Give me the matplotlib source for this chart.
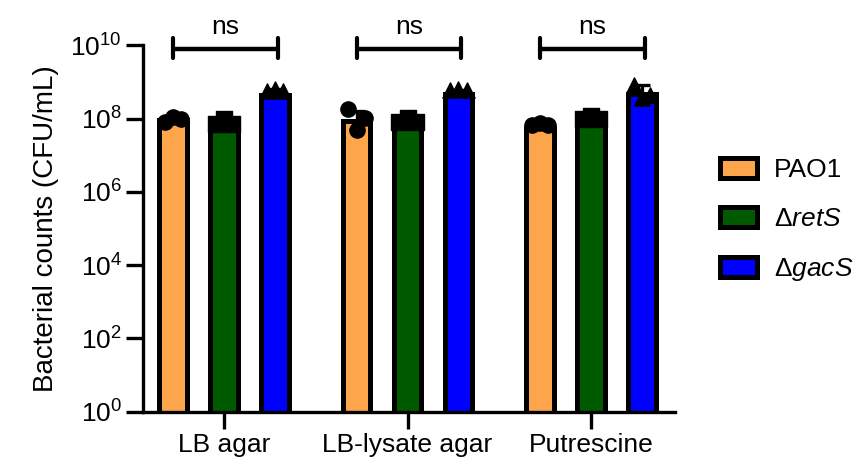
import numpy as np
import matplotlib
matplotlib.use("Agg")
import matplotlib.pyplot as plt
from matplotlib.patches import Patch

plt.rcParams['font.family'] = ['Liberation Sans', 'DejaVu Sans']
plt.rcParams['mathtext.fontset'] = 'custom'
plt.rcParams['mathtext.rm'] = 'Liberation Sans'
plt.rcParams['mathtext.it'] = 'Liberation Sans:italic'

# data (log10 CFU/mL)
conditions = ['LB agar', 'LB-lysate agar', 'Putrescine']
strains = ['PAO1', r'$\Delta\mathit{retS}$', r'$\Delta\mathit{gacS}$']
colors = ['#FDA54B', '#005A00', '#0000FF']
markers = ['o', 's', '^']

pao1_mean = [7.96, 7.93, 7.74]
rets_mean = [7.80, 7.78, 7.86]
gacs_mean = [8.66, 8.67, 8.67]

pao1_sd_top = [8.03, 8.21, 7.88]
rets_sd_top = [7.95, 8.03, 8.07]
gacs_sd_top = [8.80, 8.78, 8.92]

pao1_pts = [[7.92, 8.06, 7.98], [8.26, 7.69, 8.02], [7.84, 7.87, 7.84]]
rets_pts = [[7.85, 7.98, 7.85], [7.92, 8.03, 7.92], [7.98, 8.08, 7.98]]
gacs_pts = [[8.76, 8.80, 8.76], [8.78, 8.80, 8.78], [8.93, 8.56, 8.66]]
jitter = [-0.045, 0.0, 0.045]

ns_labels = ['ns', 'ns', 'ns']

means = [pao1_mean, rets_mean, gacs_mean]
sd_tops = [pao1_sd_top, rets_sd_top, gacs_sd_top]
points = [pao1_pts, rets_pts, gacs_pts]

FS = 19

fig = plt.figure(figsize=(8.67, 4.63), dpi=100)
ax = fig.add_axes([0.1646, 0.1108, 0.614, 0.791])

x = np.arange(len(conditions))
offs = [-0.277, 0.0, 0.277]
bw = 0.15

for i in range(3):
    xs = x + offs[i]
    m = 10 ** np.array(means[i])
    ax.bar(xs, m, width=bw, color=colors[i], edgecolor='black', linewidth=3.6, zorder=2)
    top = 10 ** np.array(sd_tops[i])
    ax.errorbar(xs, m, yerr=[np.zeros(3), top - m], fmt='none', ecolor='black',
                elinewidth=2.4, capsize=6, capthick=2.4, zorder=3)
    for j in range(3):
        ax.scatter(xs[j] + np.array(jitter), 10 ** np.array(points[i][j]), s=120,
                   marker=markers[i], color='black', zorder=4, clip_on=False)

# significance brackets
for j in range(3):
    x1, x2 = x[j] + offs[0], x[j] + offs[2] + 0.015
    yb = 10 ** 9.9
    ax.plot([x1, x2], [yb, yb], color='black', lw=3.2, clip_on=False, solid_capstyle='butt')
    for xx in (x1, x2):
        ax.plot([xx, xx], [10 ** 9.66, 10 ** 10.2], color='black', lw=3, clip_on=False,
                solid_capstyle='round')
    ax.text((x1 + x2) / 2, 10 ** 10.3, ns_labels[j], ha='center', va='baseline', fontsize=FS)

ax.set_yscale('log')
ax.set_ylim(1, 1e10)
ax.set_xlim(-0.443, 2.458)
yt = [10 ** k for k in range(0, 11, 2)]
ax.set_yticks(yt)
ax.set_yticklabels([r'$\mathregular{10^{%d}}$' % k for k in range(0, 11, 2)])
ax.minorticks_off()
ax.set_xticks(x)
ax.set_xticklabels(conditions)

for s in ['top', 'right']:
    ax.spines[s].set_visible(False)
for s in ['left', 'bottom']:
    ax.spines[s].set_linewidth(2.4)
ax.tick_params(axis='both', width=2.4, length=12, labelsize=FS, color='black')
ax.tick_params(axis='y', pad=3)
ax.tick_params(axis='x', pad=3)
ax.set_ylabel('Bacterial counts (CFU/mL)', fontsize=20, labelpad=8)

handles = [Patch(facecolor=colors[i], edgecolor='black', linewidth=3.6) for i in range(3)]
fig.legend(handles, strains, loc='center left', bbox_to_anchor=(0.83, 0.524),
           frameon=False, fontsize=FS, handlelength=1.4, handleheight=0.8,
           handletextpad=0.66, labelspacing=0.95, borderpad=0, borderaxespad=0)

fig.savefig('out.png', dpi=100)
